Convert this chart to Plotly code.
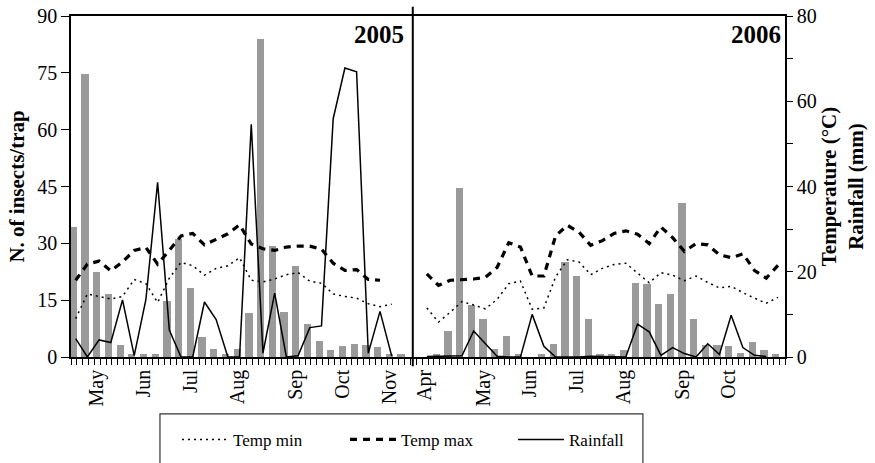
import plotly.graph_objects as go

# ---------------- data ----------------
# 2005 sampling weeks (29) and 2006 sampling weeks (31)
insects_2005 = [34.3, 74.6, 22.4, 16.5, 3.3, 0.8, 0.8, 0.8, 14.8, 31.2, 18.3, 5.3, 2.2, 0.8, 2.2,
                11.6, 83.8, 29.2, 12.0, 23.9, 8.8, 4.3, 1.8, 2.9, 3.5, 3.3, 2.6, 0.8, 0.8]
tmin_2005 = [9.0, 14.8, 14.2, 13.6, 14.2, 18.2, 17.2, 12.8, 18.5, 22.2, 21.4, 19.2, 20.8, 21.4, 23.3,
             18.0, 17.6, 18.3, 19.3, 19.8, 17.8, 17.3, 14.8, 14.2, 13.8, 12.5, 11.8, 12.4, None]
tmax_2005 = [18.0, 21.8, 22.5, 20.2, 22.3, 25.0, 25.7, 21.8, 25.0, 28.4, 29.0, 26.3, 27.6, 28.9, 31.0,
             26.5, 25.4, 25.0, 25.8, 26.0, 26.0, 25.3, 22.0, 20.3, 20.5, 18.2, 18.0, None, None]
rain_2005 = [4.3, 0.0, 4.0, 3.4, 13.4, 0.3, 13.5, 41.0, 6.3, 0.0, 0.0, 12.9, 8.8, 0.0, 0.0,
             54.6, 0.9, 15.0, 0.0, 0.3, 6.9, 7.3, 55.9, 67.8, 66.9, 0.9, 10.7, 0.2, None]

insects_2006 = [0.0, 0.7, 6.8, 44.7, 13.6, 9.9, 2.2, 5.6, 0.7, 0.0, 0.7, 3.5, 25.2, 21.4, 9.9, 0.7,
                0.7, 1.8, 19.6, 19.3, 14.1, 16.5, 40.6, 9.9, 3.3, 3.3, 2.8, 1.1, 3.9, 1.8, 0.7]
tmin_2006 = [11.5, 8.2, 10.5, 13.0, 12.2, 11.3, 13.5, 17.2, 17.8, 11.2, 11.5, 18.8, 22.8, 22.3, 19.3, 20.8,
             21.7, 22.0, 19.7, 17.4, 19.8, 19.2, 17.9, 19.0, 17.5, 16.2, 16.6, 15.1, 13.8, 12.6, 14.0]
tmax_2006 = [19.5, 16.8, 18.0, 18.2, 18.3, 18.7, 21.0, 26.8, 25.8, 19.0, 19.0, 28.4, 30.9, 29.3, 26.2, 27.3,
             29.0, 29.6, 28.8, 26.6, 30.5, 28.0, 24.8, 26.6, 26.3, 24.0, 23.3, 24.2, 20.3, 18.5, 21.5]
rain_2006 = [0.1, 0.2, 0.2, 0.3, 6.1, 3.1, 0.2, 0.0, 0.0, 10.0, 2.5, 0.0, 0.0, 0.0, 0.2, 0.1,
             0.0, 0.0, 7.7, 5.9, 0.4, 2.2, 0.8, 0.0, 3.1, 0.6, 9.8, 2.2, 0.4, 0.1, None]

month_labels_2005 = ["May", "Jun", "Jul", "Aug", "Sep", "Oct", "Nov"]
month_weeks_2005 = [2, 6, 10, 14, 19, 23, 27]
month_labels_2006 = ["Apr", "May", "Jun", "Jul", "Aug", "Sep", "Oct"]
month_weeks_2006 = [0, 5, 9, 13, 17, 22, 26]

# ---------------- layout of the shared category axis ----------------
gap = 1                                   # one empty slot between the years
start_2006 = len(insects_2005) + gap
x_2005 = list(range(len(insects_2005)))
x_2006 = [start_2006 + k for k in range(len(insects_2006))]
x_all = x_2005 + [len(insects_2005)] + x_2006

def join(a, b):
    return a + [None] + b

LINE_SHIFT = 0.2
x_line = [v + LINE_SHIFT for v in x_all]
tickvals = month_weeks_2005 + [start_2006 + w for w in month_weeks_2006]
ticktext = month_labels_2005 + month_labels_2006

SERIF = "Liberation Serif"
fig = go.Figure()
fig.add_bar(x=x_all, y=join(insects_2005, insects_2006), width=0.62,
            marker=dict(color="#9a9a9a", line=dict(width=0)), showlegend=False, yaxis="y")
fig.add_scatter(x=x_line, y=join(tmin_2005, tmin_2006), mode="lines", name="Temp min",
                line=dict(color="black", width=1.5, dash="2px,4px"), yaxis="y2")
fig.add_scatter(x=x_line, y=join(tmax_2005, tmax_2006), mode="lines", name="Temp max",
                line=dict(color="black", width=3.2, dash="7px,6px"), yaxis="y2")
fig.add_scatter(x=x_line, y=join(rain_2005, rain_2006), mode="lines", name="Rainfall",
                line=dict(color="black", width=1.5), yaxis="y2")

divider = len(insects_2005)
fig.add_shape(type="line", xref="x", yref="paper", x0=divider, x1=divider, y0=-0.027, y1=1.027,
              line=dict(color="black", width=2))
# legend frame
fig.add_shape(type="rect", xref="paper", yref="paper", x0=0.1246, x1=0.801, y0=-0.167, y1=-0.45,
              line=dict(color="#333333", width=1.2), fillcolor="rgba(0,0,0,0)")

fig.add_annotation(text="<b>2005</b>", x=divider - 0.55, xref="x", xanchor="right",
                   y=0.99, yref="paper", yanchor="top", showarrow=False,
                   font=dict(family=SERIF, size=25, color="black"))
fig.add_annotation(text="<b>2006</b>", x=len(x_all) - 0.4, xref="x", xanchor="right",
                   y=0.99, yref="paper", yanchor="top", showarrow=False,
                   font=dict(family=SERIF, size=25, color="black"))

tickfont = dict(family=SERIF, size=20, color="black")
titlefont = dict(family=SERIF, size=21, color="black")
fig.update_layout(
    width=875, height=463,
    margin=dict(l=71, r=90, t=16, b=106, autoexpand=False),
    paper_bgcolor="white", plot_bgcolor="white",
    font=dict(family=SERIF, color="black"),
    bargap=0, hovermode=False,
    xaxis=dict(range=[-0.2, len(x_all) - 0.2], tickmode="array", tickvals=tickvals, ticktext=ticktext,
               tickangle=-90, ticks="outside", ticklen=3, tickcolor="rgba(0,0,0,0)",
               showline=True, linecolor="black", linewidth=1.5, mirror=True, automargin=False,
               showgrid=False, zeroline=False, tickfont=tickfont, ticklabeloverflow="allow",
               minor=dict(tick0=-0.2, dtick=0.5, ticks="outside", ticklen=6,
                          tickcolor="black", tickwidth=1, showgrid=False)),
    yaxis=dict(range=[0, 90], tickmode="array", tickvals=[0, 15, 30, 45, 60, 75, 90],
               ticks="outside", ticklen=8, tickcolor="black", showline=True, linecolor="black",
               linewidth=1.5, showgrid=False, zeroline=False, tickfont=tickfont, automargin=False,
               ticklabeloverflow="allow",
               title=dict(text="<b>N. of insects/trap</b>", font=titlefont, standoff=7)),
    yaxis2=dict(range=[0, 80], overlaying="y", side="right", tickmode="linear", tick0=0, dtick=20,
                ticks="outside", ticklen=6, tickcolor="black", showline=True, linecolor="black",
                linewidth=1.5, showgrid=False, zeroline=False, tickfont=tickfont, automargin=False,
                ticklabeloverflow="allow",
                minor=dict(dtick=10, ticks="outside", ticklen=6, tickcolor="black", showgrid=False),
                title=dict(text="<b>Temperature (°C)<br>Rainfall (mm)</b>", font=titlefont, standoff=5)),
    legend=dict(orientation="h", x=0.1485, xanchor="left", y=-0.243, yanchor="middle",
                font=dict(family=SERIF, size=17, color="black"), bgcolor="rgba(0,0,0,0)",
                borderwidth=0, itemwidth=46, entrywidth=107, entrywidthmode="pixels"),
)

# remove the browser's default 8px page margin so the figure fills the window exactly
fig.write_html("out.html", config={"displayModeBar": False},
               post_script="document.body.style.margin='0px';")
